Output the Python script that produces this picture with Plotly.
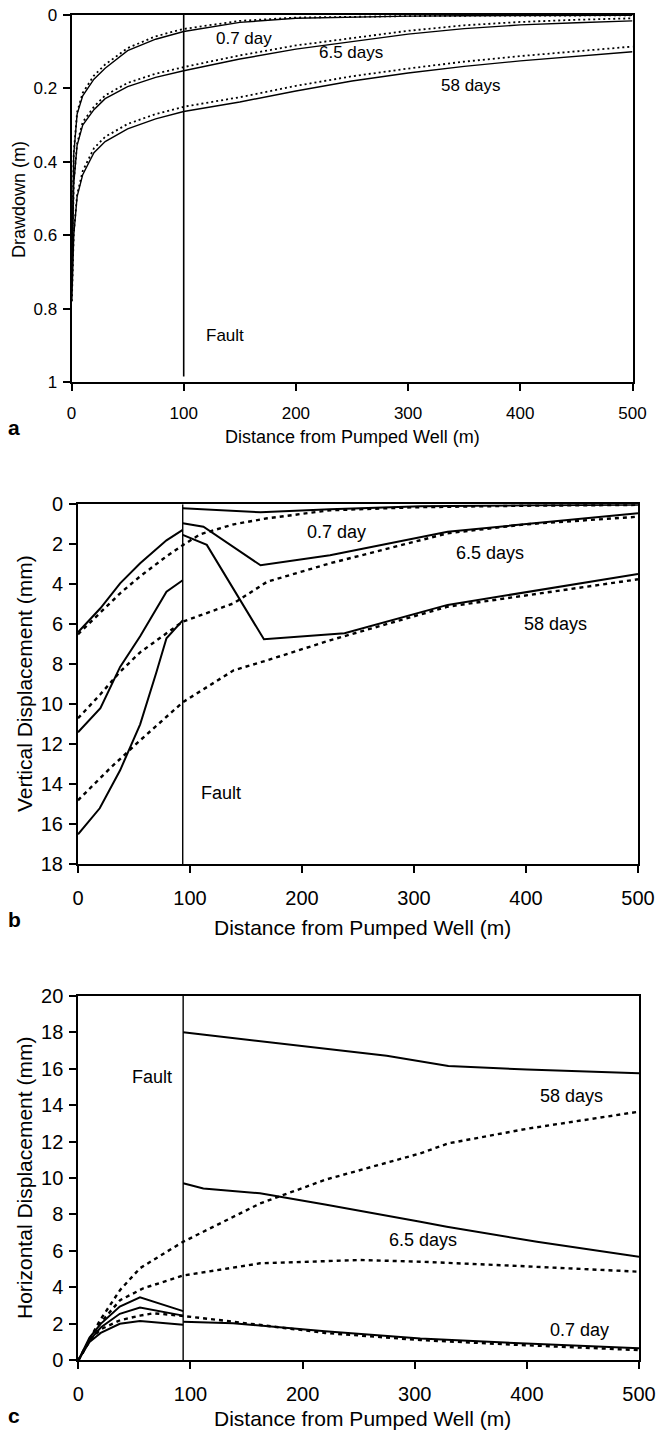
import plotly.graph_objects as go

W, H = 658, 1431
FONT = "Liberation Sans, Arial, Helvetica, sans-serif"

# ---------------- Panel a: drawdown ----------------
a_x = [0.3, 1, 2, 5, 10, 20, 30, 50, 75, 100, 150, 200, 250, 300, 350, 400, 450, 500]
a_07_solid = [0.66, 0.50, 0.38, 0.27, 0.22, 0.175, 0.145, 0.097, 0.066, 0.045, 0.02, 0.009, 0.005, 0.003, 0.002, 0.0015, 0.001, 0.001]
a_07_dot = [0.66, 0.50, 0.375, 0.265, 0.212, 0.165, 0.135, 0.09, 0.058, 0.038, 0.016, 0.007, 0.004, 0.003, 0.002, 0.0015, 0.001, 0.001]
a_65_solid = [0.72, 0.57, 0.46, 0.355, 0.30, 0.258, 0.228, 0.195, 0.17, 0.152, 0.12, 0.093, 0.072, 0.052, 0.037, 0.027, 0.021, 0.016]
a_65_dot = [0.72, 0.565, 0.455, 0.35, 0.292, 0.25, 0.219, 0.185, 0.16, 0.142, 0.11, 0.083, 0.062, 0.043, 0.028, 0.019, 0.013, 0.009]
a_58_solid = [0.78, 0.70, 0.60, 0.495, 0.435, 0.375, 0.345, 0.31, 0.283, 0.263, 0.237, 0.207, 0.18, 0.158, 0.14, 0.125, 0.112, 0.10]
a_58_dot = [0.78, 0.70, 0.595, 0.49, 0.425, 0.363, 0.332, 0.297, 0.27, 0.25, 0.224, 0.193, 0.167, 0.146, 0.127, 0.112, 0.098, 0.086]
a_fault_x = [100, 100]
a_fault_y = [0, 0.985]

# ---------------- Panel b: vertical displacement ----------------
b_fault_x = [93.5, 93.5]
b_fault_y = [0, 18]
b_07_left_x = [0, 20, 37.6, 55.5, 79, 93.5]
b_07_left_y = [6.4, 5.2, 3.95, 2.95, 1.8, 1.28]
b_07_right_x = [93.5, 163, 225, 306, 400, 500]
b_07_right_y = [0.2, 0.4, 0.25, 0.1, 0.05, 0.02]
b_07_dot_x = [0, 20, 37.6, 55.5, 79, 93.5, 109, 139, 169, 225, 300, 400, 500]
b_07_dot_y = [6.5, 5.4, 4.45, 3.6, 2.6, 2.05, 1.5, 1.0, 0.7, 0.3, 0.15, 0.07, 0.03]
b_65_left_x = [0, 20, 37.6, 55.5, 79, 93.5]
b_65_left_y = [11.4, 10.2, 8.13, 6.6, 4.37, 3.8]
b_65_right_x = [93.5, 112, 163, 225, 330, 500]
b_65_right_y = [0.95, 1.12, 3.05, 2.55, 1.37, 0.45]
b_65_dot_x = [0, 20, 37.6, 55.5, 79, 93.5, 139, 169, 225, 330, 400, 500]
b_65_dot_y = [10.7, 9.5, 8.37, 7.4, 6.45, 5.87, 4.95, 3.87, 2.95, 1.45, 1.0, 0.62]
b_58_left_x = [0, 19.4, 37.6, 55.5, 70, 79, 93.5]
b_58_left_y = [16.5, 15.2, 13.3, 11.0, 8.4, 6.7, 5.8]
b_58_right_x = [93.5, 115, 166, 238, 330, 500]
b_58_right_y = [1.53, 2.03, 6.75, 6.45, 5.03, 3.49]
b_58_dot_x = [0, 28.6, 55.5, 93.5, 139, 169, 225, 330, 500]
b_58_dot_y = [14.8, 13.2, 11.8, 9.9, 8.3, 7.8, 6.8, 5.12, 3.75]

# ---------------- Panel c: horizontal displacement ----------------
c_fault_x = [93.5, 93.5]
c_fault_y = [0, 20]
c_left_x = [0, 10, 20, 37, 55, 93.5]
c_58_left_y = [0, 1.25, 2.0, 2.95, 3.45, 2.7]
c_65_left_y = [0, 1.1, 1.8, 2.55, 2.9, 2.45]
c_07_left_y = [0, 1.0, 1.5, 2.0, 2.15, 1.95]
c_58_right_x = [93.5, 150, 215, 275, 330, 400, 500]
c_58_right_y = [18.0, 17.6, 17.15, 16.7, 16.15, 15.95, 15.75]
c_65_right_x = [93.5, 111.5, 162, 220, 305, 328.6, 409, 500]
c_65_right_y = [9.71, 9.43, 9.16, 8.55, 7.6, 7.33, 6.5, 5.68]
c_07_right_x = [93.5, 138, 220, 305, 394, 500]
c_07_right_y = [2.12, 2.03, 1.6, 1.2, 0.93, 0.66]
c_58_dot_x = [0, 19.4, 37.3, 55, 79, 93.5, 162, 220, 305, 330, 400, 500]
c_58_dot_y = [0, 2.2, 3.86, 5.05, 5.96, 6.5, 8.6, 9.9, 11.35, 11.9, 12.7, 13.64]
c_65_dot_x = [0, 19.4, 37.3, 58, 93.5, 162, 251, 305, 394, 500]
c_65_dot_y = [0, 2.03, 3.3, 3.95, 4.65, 5.32, 5.5, 5.41, 5.17, 4.86]
c_07_dot_x = [0, 10, 20, 37.3, 55, 67, 93.5, 138, 220, 305, 394, 500]
c_07_dot_y = [0, 1.1, 1.7, 2.2, 2.45, 2.58, 2.43, 2.12, 1.5, 1.11, 0.84, 0.56]

x_ticks = [0, 100, 200, 300, 400, 500]

fig = go.Figure()

def solid(x, y, ax, w=1.6):
    fig.add_trace(go.Scatter(x=x, y=y, mode="lines", xaxis=ax[0], yaxis=ax[1],
                             line=dict(color="black", width=w), showlegend=False,
                             hoverinfo="skip"))

def dotted(x, y, ax, w=2.4, dash="4px,4px"):
    fig.add_trace(go.Scatter(x=x, y=y, mode="lines", xaxis=ax[0], yaxis=ax[1],
                             line=dict(color="black", width=w, dash=dash), showlegend=False,
                             hoverinfo="skip"))

A = ("x", "y")
B = ("x2", "y2")
C = ("x3", "y3")

# panel a
for yd in (a_07_dot, a_65_dot, a_58_dot):
    dotted(a_x, yd, A, w=1.8, dash="2px,3px")
for ys in (a_07_solid, a_65_solid, a_58_solid):
    solid(a_x, ys, A, w=1.4)
solid(a_fault_x, a_fault_y, A, w=1.6)

# panel b
dotted(b_07_dot_x, b_07_dot_y, B)
dotted(b_65_dot_x, b_65_dot_y, B)
dotted(b_58_dot_x, b_58_dot_y, B)
solid(b_07_left_x, b_07_left_y, B, w=2)
solid(b_07_right_x, b_07_right_y, B, w=2)
solid(b_65_left_x, b_65_left_y, B, w=2)
solid(b_65_right_x, b_65_right_y, B, w=2)
solid(b_58_left_x, b_58_left_y, B, w=2)
solid(b_58_right_x, b_58_right_y, B, w=2)
solid(b_fault_x, b_fault_y, B, w=1.4)

# panel c
dotted(c_07_dot_x, c_07_dot_y, C)
dotted(c_65_dot_x, c_65_dot_y, C)
dotted(c_58_dot_x, c_58_dot_y, C)
solid(c_left_x, c_58_left_y, C, w=2)
solid(c_left_x, c_65_left_y, C, w=2)
solid(c_left_x, c_07_left_y, C, w=2)
solid(c_58_right_x, c_58_right_y, C, w=2)
solid(c_65_right_x, c_65_right_y, C, w=2)
solid(c_07_right_x, c_07_right_y, C, w=2)
solid(c_fault_x, c_fault_y, C, w=1.4)

def px_x(p):
    return p / W

def px_y(p):
    return 1 - p / H

def xax(dom, anchor, fs):
    return dict(domain=dom, anchor=anchor, range=[0, 500], tickvals=x_ticks,
                showgrid=False, zeroline=False, showline=True, linecolor="black",
                linewidth=2, mirror=True, ticks="outside", ticklen=7, tickwidth=2,
                tickcolor="black", tickfont=dict(family=FONT, size=fs, color="black"),
                ticklabelstandoff=8, automargin=False, fixedrange=True)

def yax(dom, anchor, rng, dtick, fs):
    return dict(domain=dom, anchor=anchor, range=rng, dtick=dtick, tick0=0,
                showgrid=False, zeroline=False, showline=True, linecolor="black",
                linewidth=2, mirror=True, ticks="outside", ticklen=7, tickwidth=2,
                tickcolor="black", tickfont=dict(family=FONT, size=fs, color="black"),
                ticklabelstandoff=2, automargin=False, fixedrange=True)

fig.update_layout(
    width=W, height=H,
    margin=dict(l=0, r=0, t=0, b=0),
    paper_bgcolor="white", plot_bgcolor="white",
    xaxis=xax([px_x(71.5), px_x(632.5)], "y", 17),
    yaxis=yax([px_y(382), px_y(15)], "x", [1, 0], 0.2, 17),
    xaxis2=xax([px_x(78), px_x(638)], "y2", 20),
    yaxis2=yax([px_y(864.3), px_y(504.3)], "x2", [18, 0], 2, 20),
    xaxis3=xax([px_x(78.3), px_x(639)], "y3", 20),
    yaxis3=yax([px_y(1360.3), px_y(995.7)], "x3", [0, 20], 2, 20),
)

ann = []

def label(text, x, y, xref, yref, size=18, **kw):
    ann.append(dict(text=text, x=x, y=y, xref=xref, yref=yref, showarrow=False,
                    xanchor="center", yanchor="middle",
                    font=dict(family=FONT, size=size, color="black"), **kw))

# in-plot labels (data coordinates)
label("0.7 day", 154, 0.063, "x", "y", 17)
label("6.5 days", 249, 0.101, "x", "y", 17)
label("58 days", 356, 0.191, "x", "y", 17)
label("Fault", 137, 0.872, "x", "y", 17)

label("0.7 day", 231, 1.38, "x2", "y2", 18)
label("6.5 days", 368, 2.45, "x2", "y2", 18)
label("58 days", 426, 5.99, "x2", "y2", 18)
label("Fault", 128, 14.45, "x2", "y2", 18)

label("Fault", 65.5, 15.56, "x3", "y3", 18)
label("58 days", 440, 14.5, "x3", "y3", 18)
label("6.5 days", 307, 6.6, "x3", "y3", 18)
label("0.7 day", 447, 1.66, "x3", "y3", 18)

# axis titles (paper coordinates)
label("Distance from Pumped Well (m)", px_x(352), px_y(437), "paper", "paper", 18)
label("Distance from Pumped Well (m)", px_x(362), px_y(927), "paper", "paper", 21)
label("Distance from Pumped Well (m)", px_x(362), px_y(1418), "paper", "paper", 21)
label("Drawdown (m)", px_x(19), px_y(200), "paper", "paper", 18, textangle=-90)
label("Vertical Displacement (mm)", px_x(24), px_y(684), "paper", "paper", 21, textangle=-90)
label("Horizontal Displacement (mm)", px_x(24), px_y(1178), "paper", "paper", 21, textangle=-90)

# panel letters
label("<b>a</b>", px_x(14), px_y(427), "paper", "paper", 21)
label("<b>b</b>", px_x(14), px_y(919), "paper", "paper", 21)
label("<b>c</b>", px_x(14), px_y(1415), "paper", "paper", 21)

fig.update_layout(annotations=ann)

fig.write_html("out.html",
               config={"displayModeBar": False},
               post_script="document.body.style.margin='0';document.body.style.overflow='hidden';")
